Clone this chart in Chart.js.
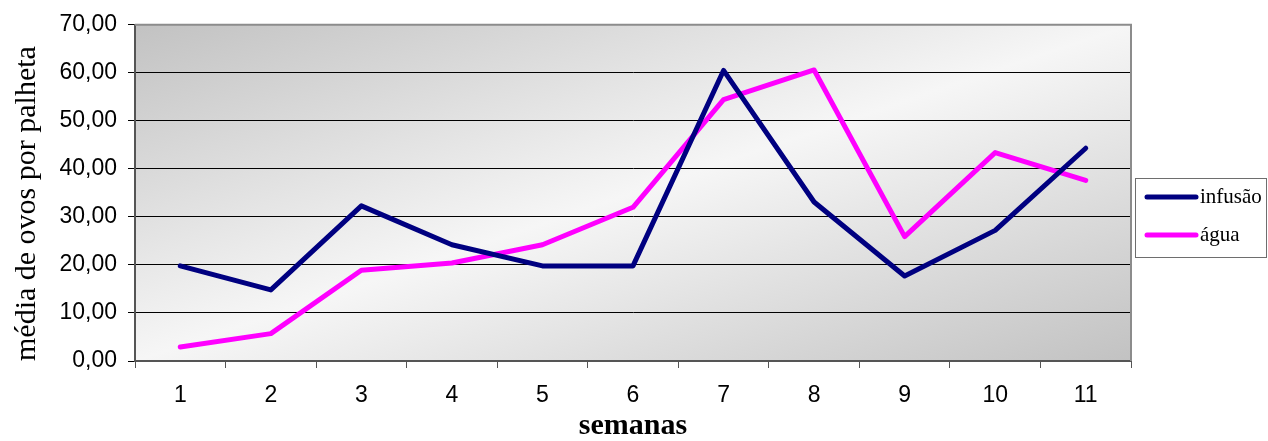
<!DOCTYPE html>
<html>
<head>
<meta charset="utf-8">
<script src="https://cdn.jsdelivr.net/npm/chart.js@4"></script>
<style>
  body { margin: 0; background: #fff; }
  #box { width: 1268px; height: 441px; }
</style>
</head>
<body>
<div id="box"><canvas id="grafico" width="1268" height="441"></canvas></div>
<script>
const semanas = ["1", "2", "3", "4", "5", "6", "7", "8", "9", "10", "11"];
const infusao = [19.8, 14.8, 32.3, 24.2, 19.8, 19.8, 60.5, 33.1, 17.7, 27.2, 44.3];
const agua = [2.9, 5.7, 18.9, 20.4, 24.2, 32.0, 54.4, 60.6, 25.9, 43.4, 37.6];
const nomesSeries = ["infusão", "água"];
const coresSeries = ["#000080", "#ff00ff"];

// fundo em degradê da área do gráfico
const fundo = {
    id: "fundo",
    beforeDraw(chart) {
        const {ctx, chartArea: a} = chart;
        const w = a.right - a.left, h = a.bottom - a.top;
        const cx = a.left + w / 2, cy = a.top + h / 2;
        const k = (w * h) / (w * w + h * h);
        const g = ctx.createLinearGradient(cx - k * h, cy - k * w, cx + k * h, cy + k * w);
        g.addColorStop(0, "#c2c2c2");
        g.addColorStop(0.5, "#f6f6f6");
        g.addColorStop(1, "#c2c2c2");
        ctx.save();
        ctx.fillStyle = g;
        ctx.fillRect(a.left, a.top, w, h);
        ctx.restore();
    },
    afterDatasetsDraw(chart) {
        const {ctx, chartArea: a} = chart;
        ctx.save();
        ctx.strokeStyle = "#8c8c8c";
        ctx.lineWidth = 2;
        ctx.beginPath();
        ctx.moveTo(a.left, a.top);
        ctx.lineTo(a.right, a.top);
        ctx.lineTo(a.right, a.bottom);
        ctx.stroke();
        ctx.restore();
    }
};

// legenda com moldura, à direita
const legenda = {
    id: "legenda",
    afterDraw(chart) {
        const ctx = chart.ctx;
        ctx.save();
        ctx.fillStyle = "#fff";
        ctx.fillRect(1135, 178, 133, 79);
        ctx.strokeStyle = "#6e6e6e";
        ctx.lineWidth = 1;
        ctx.strokeRect(1135.5, 178.5, 131, 79);
        const ys = [197, 235];
        chart.data.datasets.forEach((ds, i) => {
            ctx.strokeStyle = ds.borderColor;
            ctx.lineWidth = 5;
            ctx.lineCap = "round";
            ctx.beginPath();
            ctx.moveTo(1147, ys[i]);
            ctx.lineTo(1196, ys[i]);
            ctx.stroke();
            ctx.fillStyle = "#000";
            ctx.font = "21px 'Liberation Serif', 'Times New Roman', serif";
            ctx.textBaseline = "middle";
            ctx.fillText(ds.label, 1200, ys[i]);
        });
        ctx.restore();
    }
};

const data = {
    labels: semanas,
    datasets: [
        {label: nomesSeries[0], data: infusao, borderColor: coresSeries[0], backgroundColor: coresSeries[0]},
        {label: nomesSeries[1], data: agua, borderColor: coresSeries[1], backgroundColor: coresSeries[1]}
    ]
};

const config = {
    type: "line",
    data: data,
    options: {
        responsive: false,
        animation: false,
        layout: {padding: {left: 0, top: 21, right: 137, bottom: 0}},
        elements: {
            line: {borderWidth: 5, tension: 0, borderJoinStyle: "round", borderCapStyle: "round"},
            point: {radius: 0, hoverRadius: 0}
        },
        plugins: {
            legend: {display: false},
            tooltip: {enabled: false}
        },
        scales: {
            x: {
                offset: true,
                afterFit: (s) => { s.height = 80; },
                grid: {offset: true, drawOnChartArea: false, drawTicks: true, tickLength: 7, color: "#555", lineWidth: 1},
                border: {color: "#555", width: 2},
                ticks: {color: "#000", padding: 14, font: {family: "Arial, 'Liberation Sans', sans-serif", size: 23}},
                title: {display: true, text: "semanas", color: "#000", padding: 0,
                        font: {family: "'Liberation Serif', 'Times New Roman', serif", size: 30, weight: "bold", lineHeight: 1}}
            },
            y: {
                min: 0,
                max: 70,
                afterFit: (s) => { s.width = 135; },
                grid: {color: "#000", lineWidth: 1, drawTicks: true, tickLength: 7},
                border: {color: "#555", width: 2},
                ticks: {
                    stepSize: 10,
                    color: "#000",
                    padding: 11,
                    font: {family: "Arial, 'Liberation Sans', sans-serif", size: 23},
                    callback: (v) => v.toFixed(2).replace(".", ",")
                },
                title: {display: true, text: "média de ovos por palheta", color: "#000", align: "start",
                        padding: {top: 9, bottom: 0},
                        font: {family: "'Liberation Serif', 'Times New Roman', serif", size: 30}}
            }
        }
    },
    plugins: [fundo, legenda]
};

const grafico = new Chart(document.querySelector("#grafico"), config);
</script>
</body>
</html>
